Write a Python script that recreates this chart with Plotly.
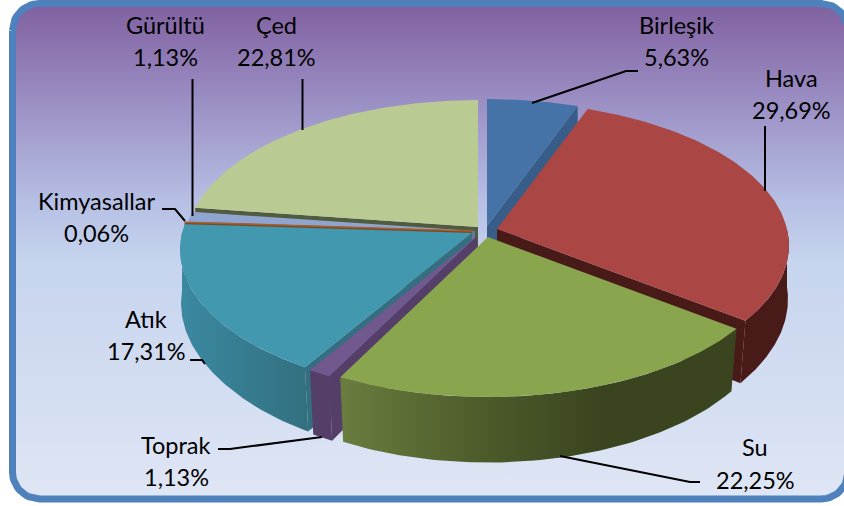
import numpy as np
import plotly.graph_objects as go

categories = ["Birleşik", "Hava", "Su", "Toprak", "Atık", "Kimyasallar", "Gürültü", "Çed"]
values = [5.63, 29.69, 22.25, 1.13, 17.31, 0.06, 1.13, 22.81]

# Exploded slice apex positions, in pixels
apex_x = [487, 497, 488, 477, 472, 472, 475, 478]
apex_y = [226, 229, 237, 236, 233, 231, 231, 227]
top_colors = ["#4573a7", "#aa4643", "#89a54e", "#71588f", "#4198af", "#a5602f", "#8fa5d0", "#b9ca92"]
cut_colors = ["#385d88", "#481a18", "#3a451f", "#553e68", "#336f80", "#7a4a26", "#66749a", "#515c3e"]
wall_scales = [
    [[0, "#385d88"], [1, "#385d88"]],
    [[0, "#481a18"], [1, "#481a18"]],
    [[0, "#6a7d3f"], [0.35, "#4e5c2b"], [0.65, "#3a451f"], [1, "#3a451f"]],
    [[0, "#553e68"], [1, "#553e68"]],
    [[0, "#3b89a2"], [1, "#32707f"]],
    [[0, "#7a4a26"], [1, "#7a4a26"]],
    [[0, "#66749a"], [1, "#66749a"]],
    [[0, "#515c3e"], [1, "#515c3e"]],
]
paint_order = [0, 7, 6, 5, 1, 4, 3, 2]

label_x = [676, 791, 755, 176, 146, 96, 165, 276]
name_y = [25, 78, 447, 445, 319, 201, 25, 25]
pct_y = [57, 110, 480, 477, 351, 233, 57, 57]
leaders = [
    [(638, 71), (626, 71), (532, 103)],
    [(765, 126), (765, 191)],
    [(700, 482), (690, 482), (560, 456)],
    [(218, 449), (230, 449), (322, 437)],
    [(190, 360), (202, 360), (205, 364)],
    [(162, 209), (175, 209), (185, 221)],
    [(192.5, 79), (192.5, 216)],
    [(302.5, 79), (302.5, 130)],
]

RX, RY, P, DEPTH = 290.0, 141.6, 0.115, 58.0


def project(theta, ax, ay):
    X, Y = np.sin(theta), np.cos(theta)
    s = 1 / (1 + P * Y)
    return ax + RX * X * s, ay - RY * Y * s, s


def bottom(theta, ax, ay):
    x, y, s = project(theta, ax, ay)
    shrink = 1 - 0.02 * np.clip(-np.cos(theta) / 0.6, 0, 1)
    return ax + (x - ax) * shrink, y + DEPTH * s


fig = go.Figure()


def poly(xs, ys, color=None, gradient=None, line=0):
    kw = dict(fillgradient=gradient) if gradient else dict(fillcolor=color)
    fig.add_trace(go.Scatter(
        x=list(xs) + [xs[0]], y=list(ys) + [ys[0]], mode="lines", fill="toself",
        line=dict(width=line, color=color or "rgba(0,0,0,0)"), hoverinfo="skip",
        showlegend=False, **kw))


# Panel with rounded border
L, T, R_, B, CR = 12.5, 3.5, 848.0, 499.0, 27.0
arc = np.linspace(0, np.pi / 2, 16)
px = np.concatenate([L + CR - CR * np.cos(arc), R_ - CR + CR * np.sin(arc),
                     R_ - CR + CR * np.cos(arc), L + CR - CR * np.sin(arc)])
py = np.concatenate([T + CR - CR * np.sin(arc), T + CR - CR * np.cos(arc),
                     B - CR + CR * np.sin(arc), B - CR + CR * np.cos(arc)])
fig.add_trace(go.Scatter(
    x=list(px) + [px[0]], y=list(py) + [py[0]], mode="lines", fill="toself",
    line=dict(color="#4f81bd", width=7), hoverinfo="skip", showlegend=False,
    fillgradient=dict(type="vertical", colorscale=[
        [0, "#dfe6f5"], [0.48, "#c6d4ee"], [0.6, "#b6bfe4"], [0.8, "#9b8fc4"], [1, "#8060a0"]])))

# Slices
edges = np.radians(np.concatenate([[0], np.cumsum(values)]) / sum(values) * 360)
for i in paint_order:
    a0, a1 = edges[i], edges[i + 1]
    ax, ay = apex_x[i], apex_y[i]
    # visible cut faces
    for th, visible in ((a0, np.sin(a0) < 0), (a1, np.sin(a1) > 0)):
        if visible:
            tx, ty, _ = project(th, ax, ay)
            bx, by = bottom(th, ax, ay)
            poly([ax, tx, bx, ax], [ay, ty, by, ay + DEPTH], cut_colors[i])
    # outer wall on the front side
    w0, w1 = max(a0, np.pi / 2), min(a1, 3 * np.pi / 2)
    if w1 > w0:
        th = np.linspace(w0, w1, 80)
        tx, ty, _ = project(th, ax, ay)
        bx, by = bottom(th, ax, ay)
        poly(np.concatenate([tx, bx[::-1]]), np.concatenate([ty, by[::-1]]),
             gradient=dict(type="horizontal", colorscale=wall_scales[i]))
    # top surface
    th = np.linspace(a0, a1, max(4, int((a1 - a0) * 80)))
    tx, ty, _ = project(th, ax, ay)
    poly(np.concatenate([[ax], tx]), np.concatenate([[ay], ty]), top_colors[i],
         line=1.5 if values[i] < 0.5 else 0)

# Leader lines
for pts in leaders:
    fig.add_trace(go.Scatter(x=[p[0] for p in pts], y=[p[1] for p in pts], mode="lines",
                             line=dict(color="black", width=2), hoverinfo="skip", showlegend=False))

# Labels
font = dict(family="Lato", size=23.5, color="black")
annotations = []
for name, v, x, y1, y2 in zip(categories, values, label_x, name_y, pct_y):
    pct = f"{v:.2f}%".replace(".", ",")
    annotations.append(dict(x=x, y=y1, text=name, showarrow=False, font=font, xanchor="center", yanchor="middle"))
    annotations.append(dict(x=x, y=y2, text=pct, showarrow=False, font=font, xanchor="center", yanchor="middle"))

fig.update_layout(
    width=844, height=506, margin=dict(l=0, r=0, t=0, b=0),
    paper_bgcolor="white", plot_bgcolor="white", showlegend=False, annotations=annotations,
    xaxis=dict(range=[0, 844], visible=False, fixedrange=True),
    yaxis=dict(range=[506, 0], visible=False, fixedrange=True),
)
fig.write_html("out.html", config=dict(displayModeBar=False),
               post_script="document.body.style.margin='0';document.body.style.overflow='hidden';")
